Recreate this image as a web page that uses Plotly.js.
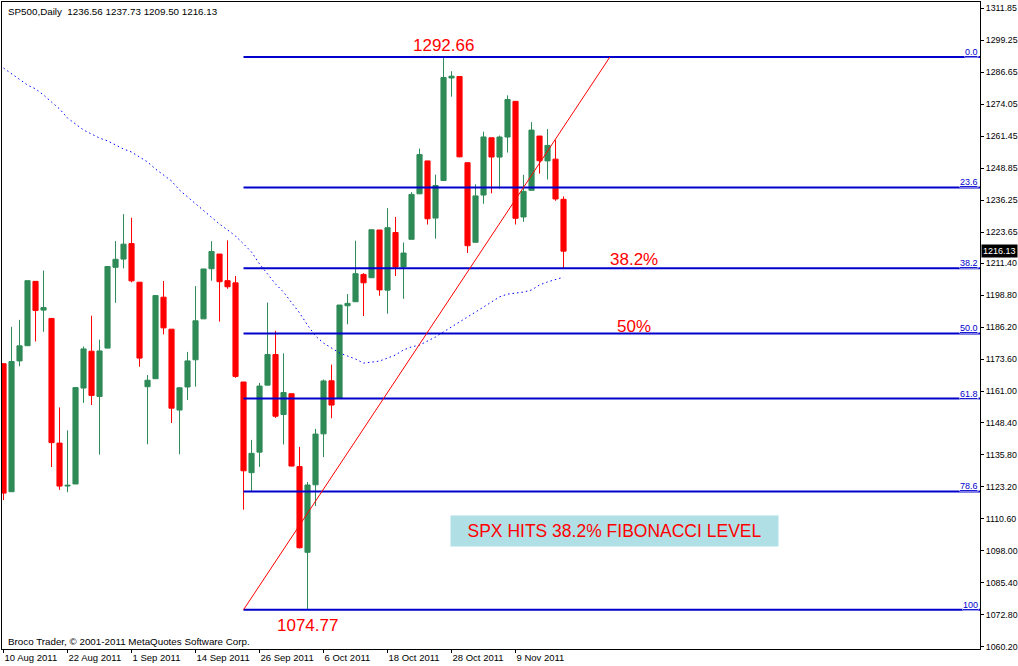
<!DOCTYPE html>
<html>
<head>
<meta charset="utf-8">
<script src="https://cdn.plot.ly/plotly-3.0.1.min.js"></script>
<style>
  html, body { margin: 0; padding: 0; background: #ffffff; }
  #chart { width: 1018px; height: 666px; }
</style>
</head>
<body>
<div id="chart"></div>
<script>
// ---------------- DATA ----------------
var dates = [
  "2011-08-10","2011-08-11","2011-08-12","2011-08-15","2011-08-16","2011-08-17","2011-08-18","2011-08-19",
  "2011-08-22","2011-08-23","2011-08-24","2011-08-25","2011-08-26","2011-08-29","2011-08-30","2011-08-31",
  "2011-09-01","2011-09-02","2011-09-06","2011-09-07","2011-09-08","2011-09-09","2011-09-12","2011-09-13",
  "2011-09-14","2011-09-15","2011-09-16","2011-09-19","2011-09-20","2011-09-21","2011-09-22","2011-09-23",
  "2011-09-26","2011-09-27","2011-09-28","2011-09-29","2011-09-30","2011-10-03","2011-10-04","2011-10-05",
  "2011-10-06","2011-10-07","2011-10-10","2011-10-11","2011-10-12","2011-10-13","2011-10-14","2011-10-17",
  "2011-10-18","2011-10-19","2011-10-20","2011-10-21","2011-10-24","2011-10-25","2011-10-26","2011-10-27",
  "2011-10-28","2011-10-31","2011-11-01","2011-11-02","2011-11-03","2011-11-04","2011-11-07","2011-11-08",
  "2011-11-09","2011-11-10","2011-11-11","2011-11-14","2011-11-15","2011-11-16","2011-11-17"
];

var openP = [
  1171.77,1121.30,1172.87,1178.86,1204.22,1192.89,1189.62,1140.47,
  1123.55,1124.36,1162.16,1176.69,1158.85,1177.91,1209.76,1213.00,
  1219.12,1203.90,1162.70,1165.85,1197.98,1185.37,1153.50,1162.59,
  1173.32,1189.44,1209.21,1214.99,1204.50,1203.63,1164.55,1128.82,
  1136.91,1163.32,1175.39,1151.74,1159.93,1131.21,1097.42,1124.03,
  1144.11,1165.03,1158.15,1194.60,1196.19,1206.96,1205.65,1224.47,
  1200.75,1223.46,1209.92,1220.80,1238.72,1251.70,1229.17,1243.97,
  1284.39,1284.96,1251.00,1219.62,1238.25,1260.82,1253.21,1261.12,
  1275.18,1229.59,1240.12,1261.50,1251.70,1252.40,1236.56
];
var highP = [
  1171.77,1186.29,1189.04,1204.49,1204.22,1208.47,1189.62,1154.54,
  1145.49,1162.35,1178.56,1190.68,1181.23,1210.28,1220.10,1230.71,
  1229.29,1203.90,1167.30,1198.62,1204.40,1185.37,1162.52,1176.41,
  1202.38,1209.11,1220.06,1214.99,1220.39,1206.30,1164.55,1141.72,
  1164.19,1195.86,1184.71,1175.87,1159.93,1138.99,1125.12,1146.07,
  1165.55,1171.40,1194.91,1199.24,1220.25,1207.46,1224.61,1224.47,
  1233.10,1229.64,1219.53,1239.40,1256.55,1251.70,1246.28,1292.66,
  1287.08,1284.96,1251.00,1242.48,1263.21,1260.82,1261.70,1277.55,
  1275.18,1246.22,1266.98,1261.50,1264.25,1259.90,1237.73
];
var lowP = [
  1118.01,1121.30,1170.74,1178.86,1180.53,1184.36,1131.03,1122.05,
  1121.09,1124.36,1156.30,1155.47,1135.91,1177.91,1195.77,1209.35,
  1203.85,1170.56,1140.00,1165.85,1183.34,1148.37,1136.07,1157.44,
  1162.73,1189.44,1204.46,1188.36,1201.29,1166.21,1114.22,1121.36,
  1131.07,1163.32,1150.40,1139.93,1131.34,1098.92,1074.77,1115.68,
  1134.95,1150.26,1158.15,1187.30,1196.19,1190.58,1205.65,1198.55,
  1191.48,1206.31,1197.34,1220.80,1238.72,1226.60,1221.06,1243.97,
  1277.01,1253.16,1215.42,1219.62,1234.81,1238.92,1240.75,1254.99,
  1226.64,1227.70,1240.12,1246.68,1244.34,1236.00,1209.50
];
var closeP = [
  1120.76,1172.64,1178.81,1204.49,1192.76,1193.89,1140.65,1123.53,
  1123.82,1162.35,1177.60,1159.27,1176.80,1210.08,1212.92,1218.89,
  1204.42,1173.97,1165.24,1198.62,1185.90,1154.23,1162.27,1172.87,
  1188.68,1209.11,1216.01,1204.09,1202.09,1166.76,1129.56,1136.43,
  1162.95,1175.38,1151.06,1160.40,1131.42,1099.23,1123.95,1144.03,
  1164.97,1155.46,1194.89,1195.54,1207.25,1203.66,1224.58,1200.86,
  1225.38,1209.88,1215.39,1238.50,1254.19,1228.90,1242.00,1284.59,
  1285.09,1253.30,1218.28,1237.90,1261.15,1253.23,1261.12,1275.92,
  1229.10,1239.69,1263.85,1251.78,1257.81,1236.70,1216.13
];

// moving average (blue dotted line), one value per bar
var maValues = [
  1288.3,1286.0,1283.6,1281.6,1280.1,1277.7,1274.9,1272.2,
  1268.6,1266.3,1263.9,1262.3,1260.7,1259.6,1258.0,1256.4,
  1255.2,1253.2,1251.3,1248.5,1246.2,1243.8,1240.2,1237.5,
  1234.7,1232.0,1229.2,1226.8,1224.5,1222.1,1219.0,1215.8,
  1211.1,1207.1,1203.2,1200.0,1196.1,1191.8,1187.0,1182.7,
  1179.9,1178.0,1176.0,1174.8,1173.6,1172.0,1172.4,1172.8,
  1174.0,1175.2,1177.2,1178.4,1179.1,1180.7,1182.3,1184.3,
  1186.2,1188.2,1190.2,1192.2,1194.1,1196.1,1198.1,1199.2,
  1199.6,1200.0,1200.8,1202.8,1204.0,1204.8,1205.9
];

// x axis tick labels (every 8th bar)
var xTickIdx = [0, 8, 16, 24, 32, 40, 48, 56, 64];
var xTickText = ["10 Aug 2011","22 Aug 2011","1 Sep 2011","14 Sep 2011","26 Sep 2011",
                 "6 Oct 2011","18 Oct 2011","28 Oct 2011","9 Nov 2011"];

// y axis tick labels (price scale)
var yTickVals = [1311.85,1299.25,1286.65,1274.05,1261.45,1248.85,1236.25,1223.65,1211.40,
                 1198.80,1186.20,1173.60,1161.00,1148.40,1135.80,1123.20,1110.60,1098.00,
                 1085.40,1072.80,1060.20];

// Fibonacci retracement
var swingHigh = 1292.66;
var swingLow = 1074.77;
var fibRatios = [0, 23.6, 38.2, 50, 61.8, 78.6, 100];
var fibLabels = ["0.0", "23.6", "38.2", "50.0", "61.8", "78.6", "100"];
var fibAnchorBar = 30;          // bar where the fibo object starts
var swingHighBar = 55;
var swingLowBar = 38;
var trendEndBar = 75.8;         // red trend line end (bar units)

// ---------------- CHART ----------------
var xIdx = dates.map(function (d, i) { return i; });
var nBars = dates.length;
var xRange = [-0.19, 122.06];
var yRange = [1059.31, 1314.34];

var GREEN = "#2E8B57", RED = "#FF0000", FIB = "#0000CC";
var FONT = "Liberation Sans, Arial, sans-serif";

var candles = {
  type: "candlestick",
  x: xIdx, open: openP, high: highP, low: lowP, close: closeP,
  increasing: { line: { color: GREEN, width: 1 }, fillcolor: GREEN },
  decreasing: { line: { color: RED, width: 1 }, fillcolor: RED },
  whiskerwidth: 0,
  hoverinfo: "skip",
  showlegend: false
};

var ma = {
  type: "scatter", mode: "lines",
  x: xIdx, y: maValues,
  line: { color: "#0000FF", width: 1, dash: "1.5px,3px" },
  hoverinfo: "skip", showlegend: false
};

function fibPrice(r) { return swingHigh - r / 100 * (swingHigh - swingLow); }

var shapes = [];
var annotations = [];

fibRatios.forEach(function (r, k) {
  var p = fibPrice(r);
  shapes.push({
    type: "line", xref: "x", yref: "y",
    x0: fibAnchorBar, x1: xRange[1], y0: p, y1: p,
    line: { color: FIB, width: 2 }
  });
  annotations.push({
    xref: "paper", yref: "y", x: 1, y: p,
    xanchor: "right", yanchor: "bottom", xshift: -1, yshift: -1,
    text: "<u>" + fibLabels[k] + "</u>", showarrow: false,
    font: { family: FONT, size: 9, color: FIB },
    bgcolor: "#ffffff", borderpad: 0
  });
});

// red trend line
shapes.push({
  type: "line", xref: "x", yref: "y",
  x0: fibAnchorBar, y0: swingLow, x1: trendEndBar, y1: swingHigh,
  line: { color: RED, width: 1 }
});

var last = nBars - 1;
annotations.push({
  xref: "paper", yref: "paper", x: 0, y: 1, xanchor: "left", yanchor: "top",
  xshift: 4, yshift: -2, showarrow: false,
  text: "SP500,Daily\u00a0\u00a0" + [openP[last], highP[last], lowP[last], closeP[last]]
          .map(function (v) { return v.toFixed(2); }).join(" "),
  font: { family: FONT, size: 9.8, color: "#000000" }
});
annotations.push({
  xref: "paper", yref: "paper", x: 0, y: 0, xanchor: "left", yanchor: "bottom",
  xshift: 4, yshift: 0, showarrow: false,
  text: "Broco Trader, \u00a9 2001-2011 MetaQuotes Software Corp.",
  font: { family: FONT, size: 9.8, color: "#000000" }
});
annotations.push({
  xref: "x", yref: "y", x: swingHighBar, y: swingHigh, xanchor: "center", yanchor: "bottom",
  yshift: 0, showarrow: false, text: swingHigh.toFixed(2),
  font: { family: FONT, size: 17, color: RED }
});
annotations.push({
  xref: "x", yref: "y", x: swingLowBar, y: swingLow, xanchor: "center", yanchor: "top",
  yshift: -4, showarrow: false, text: swingLow.toFixed(2),
  font: { family: FONT, size: 17, color: RED }
});
annotations.push({
  xref: "x", yref: "y", x: 78.8, y: fibPrice(38.2), xanchor: "center", yanchor: "bottom",
  yshift: -3, showarrow: false, text: "38.2%",
  font: { family: FONT, size: 17, color: RED }
});
annotations.push({
  xref: "x", yref: "y", x: 78.8, y: fibPrice(50), xanchor: "center", yanchor: "bottom",
  yshift: -5, showarrow: false, text: "50%",
  font: { family: FONT, size: 17, color: RED }
});
annotations.push({
  xref: "x", yref: "y", x: 76.4, y: 1105.8, xanchor: "center", yanchor: "middle",
  showarrow: false, text: "SPX HITS 38.2% FIBONACCI LEVEL",
  width: 327, height: 30, bgcolor: "#B0E0E6", borderpad: 0, align: "center",
  font: { family: FONT, size: 17.5, color: RED }
});
// current price marker on the price scale
annotations.push({
  xref: "paper", yref: "y", x: 1, y: closeP[last], xanchor: "left", yanchor: "middle",
  xshift: 1, showarrow: false, text: closeP[last].toFixed(2),
  bgcolor: "#000000", borderpad: 1,
  font: { family: FONT, size: 9, color: "#ffffff" }
});

var layout = {
  width: 1018, height: 666,
  margin: { l: 2, r: 38, t: 2, b: 17, pad: 0 },
  paper_bgcolor: "#ffffff", plot_bgcolor: "#ffffff",
  showlegend: false,
  hovermode: false,
  boxgap: 0.2, boxgroupgap: 0.2,
  xaxis: {
    type: "linear", range: xRange, fixedrange: true,
    tickmode: "array", tickvals: xTickIdx, ticktext: xTickText,
    ticks: "outside", ticklen: 3, tickcolor: "#000000", tickwidth: 1,
    ticklabelposition: "outside right",
    showline: true, linecolor: "#000000", linewidth: 1, mirror: true,
    showgrid: false, zeroline: false,
    rangeslider: { visible: false },
    tickfont: { family: FONT, size: 9.5, color: "#000000" }
  },
  yaxis: {
    side: "right", range: yRange, fixedrange: true,
    tickmode: "array", tickvals: yTickVals,
    ticktext: yTickVals.map(function (v) { return v.toFixed(2); }),
    ticks: "outside", ticklen: 3, tickcolor: "#000000", tickwidth: 1,
    showline: true, linecolor: "#000000", linewidth: 1, mirror: true,
    showgrid: false, zeroline: false,
    tickfont: { family: FONT, size: 8.8, color: "#000000" }
  },
  shapes: shapes,
  annotations: annotations
};

Plotly.newPlot("chart", [candles, ma], layout, { displayModeBar: false, staticPlot: true });
</script>
</body>
</html>
